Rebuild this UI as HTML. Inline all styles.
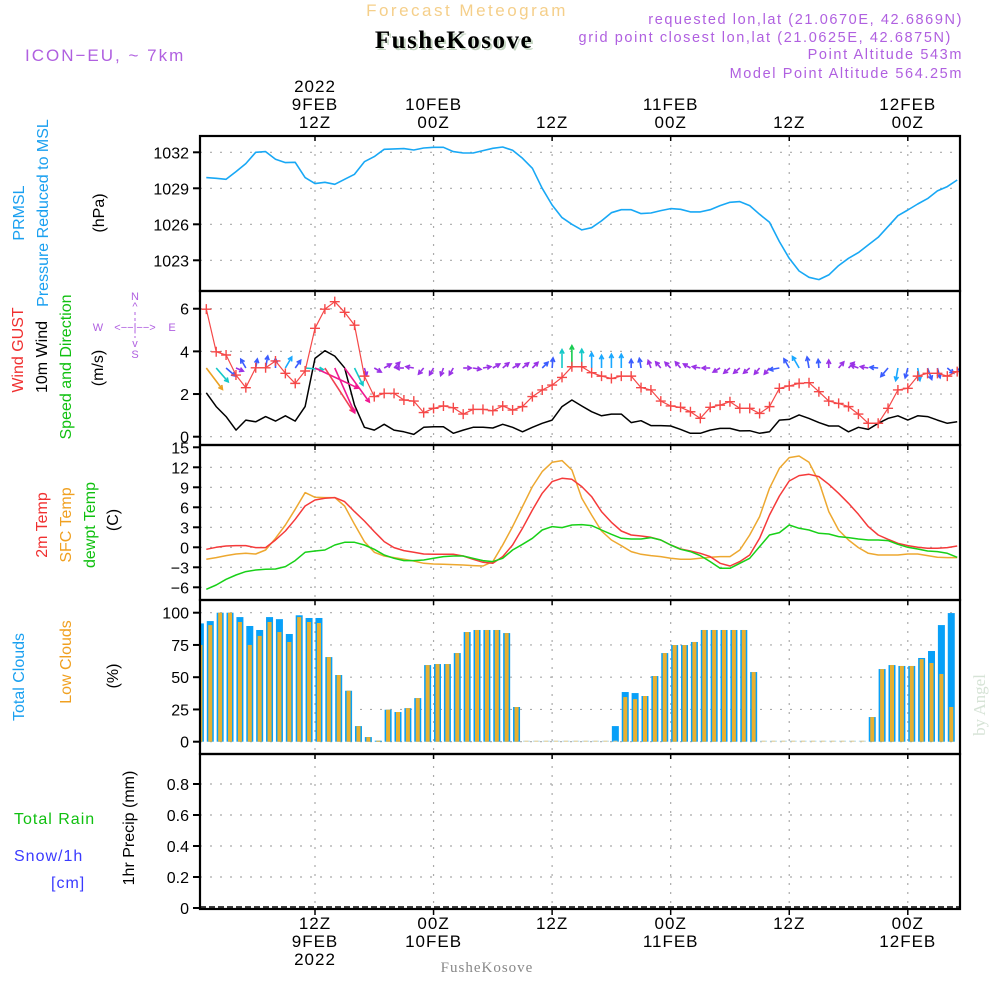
<!DOCTYPE html>
<html><head><meta charset="utf-8"><style>
html,body{margin:0;padding:0;background:#fff;}
svg{display:block;font-family:"Liberation Sans",sans-serif;}
</style></head><body>
<svg id="chart" width="1000" height="1000" viewBox="0 0 1000 1000" xmlns="http://www.w3.org/2000/svg">
<rect x="0" y="0" width="1000" height="1000" fill="#fff"/>
<text x="467" y="16" text-anchor="middle" font-size="17" letter-spacing="2.5" fill="#f5cf8a">Forecast Meteogram</text>
<text x="456" y="50" text-anchor="middle" font-family="Liberation Serif,serif" font-weight="bold" font-size="25" letter-spacing="1.5" fill="#c5d6c3">FusheKosove</text>
<text x="454" y="48" text-anchor="middle" font-family="Liberation Serif,serif" font-weight="bold" font-size="25" letter-spacing="1.5" fill="#000">FusheKosove</text>
<text x="25" y="61" font-size="17" letter-spacing="2" fill="#b060e0">ICON−EU, ~ 7km</text>
<g fill="#b060e0" font-size="14.5" letter-spacing="1.6" text-anchor="end">
<text x="963" y="24">requested lon,lat (21.0670E, 42.6869N)</text>
<text x="952" y="42">grid point closest lon,lat (21.0625E, 42.6875N)</text>
<text x="963" y="59">Point Altitude 543m</text>
<text x="963" y="78">Model Point Altitude 564.25m</text>
</g>
<g id="grid"></g>
<g id="marks"></g>
<g id="axes"></g>
<g font-size="16">
<text transform="translate(24,213) rotate(-90)" text-anchor="middle" fill="#1aa0f0">PRMSL</text>
<text transform="translate(48,213) rotate(-90)" text-anchor="middle" fill="#1aa0f0">Pressure Reduced to MSL</text>
<text transform="translate(104,213) rotate(-90)" text-anchor="middle" fill="#000">(hPa)</text>
<text transform="translate(23,350) rotate(-90)" text-anchor="middle" fill="#f03030">Wind GUST</text>
<text transform="translate(47,357) rotate(-90)" text-anchor="middle" fill="#000">10m Wind</text>
<text transform="translate(71,367) rotate(-90)" text-anchor="middle" fill="#10c010">Speed and Direction</text>
<text transform="translate(103,368) rotate(-90)" text-anchor="middle" fill="#000">(m/s)</text>
<text transform="translate(47,525) rotate(-90)" text-anchor="middle" fill="#f03030">2m Temp</text>
<text transform="translate(71,525) rotate(-90)" text-anchor="middle" fill="#f0a020">SFC Temp</text>
<text transform="translate(95,525) rotate(-90)" text-anchor="middle" fill="#10c010">dewpt Temp</text>
<text transform="translate(118,520) rotate(-90)" text-anchor="middle" fill="#000">(C)</text>
<text transform="translate(24,677) rotate(-90)" text-anchor="middle" fill="#1aa0f0">Total Clouds</text>
<text transform="translate(71,662) rotate(-90)" text-anchor="middle" fill="#f0a020">Low Clouds</text>
<text transform="translate(118,676) rotate(-90)" text-anchor="middle" fill="#000">(%)</text>
<text transform="translate(134,828) rotate(-90)" text-anchor="middle" fill="#000">1hr Precip (mm)</text>
<text x="14" y="824" fill="#10c010" letter-spacing="1">Total  Rain</text>
<text x="14" y="861" fill="#3a3aff" letter-spacing="1">Snow/1h</text>
<text x="51" y="888" fill="#3a3aff" letter-spacing="1">[cm]</text>
</g>
<g fill="#b060e0" font-size="11" text-anchor="middle">
<text x="135" y="300">N</text><text x="135" y="310">^</text>
<text x="98" y="331">W</text><text x="135" y="331">&lt;−−|−−&gt;</text><text x="172" y="331">E</text>
<text x="135" y="347">v</text><text x="135" y="358">S</text>
<line x1="135" y1="312" x2="135" y2="338" stroke="#b060e0" stroke-width="1" stroke-dasharray="3,3"/>
</g>
<text transform="translate(985,705) rotate(-90)" text-anchor="middle" font-family="Liberation Serif,serif" font-size="17" fill="#d6e3d6">by Angel</text>
<text x="487" y="972" text-anchor="middle" font-family="Liberation Serif,serif" font-size="15" letter-spacing="1" fill="#888">FusheKosove</text>
</svg>
<script>
var pressure=[1029.89,1029.83,1029.75,1030.39,1031.06,1032.0,1032.06,1031.42,1031.14,1031.17,1029.89,1029.39,1029.5,1029.33,1029.75,1030.17,1031.22,1031.64,1032.25,1032.28,1032.31,1032.19,1032.36,1032.42,1032.42,1032.06,1031.94,1031.94,1032.14,1032.33,1032.44,1032.17,1031.5,1030.67,1029.0,1027.61,1026.56,1026.0,1025.53,1025.72,1026.28,1026.97,1027.22,1027.22,1026.89,1026.94,1027.14,1027.31,1027.25,1027.03,1027.03,1027.22,1027.56,1027.83,1027.89,1027.56,1026.83,1026.17,1024.56,1023.17,1022.11,1021.58,1021.39,1021.78,1022.56,1023.17,1023.64,1024.28,1024.92,1025.81,1026.72,1027.19,1027.69,1028.14,1028.78,1029.14,1029.69];
var gust=[5.98,3.98,3.83,2.89,2.30,3.23,3.23,3.55,2.97,2.50,3.08,5.08,5.98,6.33,5.83,5.23,2.84,1.88,2.03,2.03,1.72,1.67,1.13,1.33,1.44,1.36,1.06,1.28,1.28,1.22,1.44,1.25,1.41,1.88,2.19,2.42,2.78,3.28,3.28,3.0,2.84,2.73,2.84,2.84,2.30,2.19,1.67,1.44,1.38,1.17,0.86,1.38,1.48,1.64,1.33,1.33,1.09,1.41,2.27,2.38,2.50,2.53,2.11,1.67,1.56,1.41,1.06,0.63,0.63,1.33,2.19,2.27,2.84,2.97,2.97,2.84,3.05];
var wind=[2.06,1.41,0.94,0.31,0.78,0.70,0.94,0.73,0.98,0.73,1.41,3.67,4.03,3.78,3.23,1.48,0.44,0.31,0.58,0.31,0.23,0.11,0.44,0.47,0.47,0.16,0.31,0.44,0.44,0.41,0.58,0.44,0.23,0.44,0.63,0.78,1.41,1.72,1.44,1.17,0.98,1.06,1.06,0.66,0.75,0.52,0.52,0.5,0.34,0.16,0.16,0.31,0.39,0.39,0.27,0.28,0.16,0.23,0.78,0.81,1.02,0.86,0.66,0.5,0.5,0.23,0.44,0.34,0.63,0.86,0.98,0.78,0.98,0.94,0.78,0.63,0.70];
var windDir=[143,139,131,113,330,10,10,0,30,35,95,115,147,156,144,154,164,120,60,45,270,280,220,210,200,210,90,100,80,60,50,60,50,45,45,5,0,0,0,0,0,0,0,0,350,340,320,315,320,300,280,270,240,230,230,230,220,220,260,330,330,350,355,0,40,45,290,280,275,220,190,195,170,160,165,130,140];
var temp2m=[-0.3,0,0.2,0.25,0.25,-0.05,-0.05,1.1,2.45,4.2,6.2,7.1,7.35,7.45,6.85,5.35,3.95,2.35,0.85,-0.05,-0.5,-0.75,-1.0,-1.05,-1.05,-1.05,-1.3,-1.8,-2.25,-2.4,-1.4,0.35,2.85,5.6,8.1,9.85,10.35,10.2,9.1,7.6,5.35,3.75,2.45,1.85,1.7,1.5,1.1,0.35,-0.25,-0.55,-0.9,-1.4,-2.4,-2.8,-2.15,-1.15,1.35,4.85,7.7,9.95,10.75,10.95,10.6,9.45,8.1,6.6,4.95,3.1,1.85,1.2,0.6,0.25,0,-0.15,-0.15,-0.05,0.2];
var tempSfc=[-1.8,-1.55,-1.25,-1.0,-0.9,-1.0,-0.4,1.35,3.35,5.7,8.2,7.5,7.45,7.45,6.2,3.45,0.85,-0.75,-1.3,-1.55,-1.8,-2.05,-2.4,-2.5,-2.55,-2.6,-2.65,-2.75,-2.8,-2.15,0.35,3.1,6.1,9.1,11.35,12.75,13.0,11.6,7.35,4.85,2.45,1.1,0.25,-0.65,-1.05,-1.25,-1.4,-1.65,-1.8,-1.8,-1.65,-1.5,-1.4,-1.4,-0.4,1.85,4.6,8.85,11.85,13.45,13.7,12.75,9.85,5.35,2.6,1.1,-0.05,-0.9,-1.15,-1.15,-1.15,-1.0,-1.0,-1.25,-1.5,-1.55,-1.55];
var dewpt=[-6.3,-5.65,-4.8,-4.15,-3.65,-3.4,-3.3,-3.25,-2.9,-2.0,-0.75,-0.55,-0.4,0.35,0.75,0.75,0.35,-0.3,-1.15,-1.65,-2.0,-2.0,-1.9,-1.65,-1.4,-1.3,-1.3,-1.65,-2.0,-2.15,-1.65,-0.4,0.45,1.35,2.6,3.1,2.95,3.35,3.4,3.25,2.6,1.95,1.35,1.25,1.25,1.45,1.1,0.35,-0.3,-0.65,-1.25,-2.15,-3.15,-3.15,-2.4,-1.65,0.1,1.85,2.2,3.35,2.85,2.6,2.1,2.0,1.6,1.45,1.25,1.1,1.1,1.0,0.45,0,-0.25,-0.55,-0.65,-0.9,-1.5];
var totalClouds=[91.7,93.5,100,100,96.6,89.7,86.6,96.6,95,83.5,98,95.9,95.9,65.6,51.7,39.5,12.1,3.6,0.5,24.8,23,26,33.8,59.4,60.2,60.2,68.7,85,86.6,86.6,86.6,84.2,26.9,0,0,0,0,0,0,0,0,0,12.1,38.5,37.7,35.4,50.9,68.7,74.9,74.9,77.3,86.6,86.6,86.6,86.6,86.6,54,0,0,0,0,0,0,0,0,0,0,0,19.1,56.3,59.4,58.7,58.7,64.9,70.3,90.4,99.7];
var lowClouds=[75,90.4,100,100,92.8,75,82,92.8,85,77.3,96.6,92.8,92,65.6,51.7,39.5,12.1,3.6,0.5,24.8,23,26,33.8,59.4,60.2,60.2,68.7,85,86.6,86.6,86.6,84.2,26.9,0,0,0,0,0,0,0,0,0,0,34.6,33,35.4,50.9,68.7,74.9,74.9,77.3,86.6,86.6,86.6,86.6,86.6,54,0,0,0,0,0,0,0,0,0,0,0,19.1,56.3,59.4,58.7,58.7,64,61,52.5,26.9];
var precip=[];
var pressTicks=[1023,1026,1029,1032];
var windTicks=[0,2,4,6];
var tempTicks=[-6,-3,0,3,6,9,12,15];
var cloudTicks=[0,25,50,75,100];
var precipTicks=[0,0.2,0.4,0.6,0.8];
var timeTickHours=[12,24,36,48,60,72];
var topLabels=[["2022","9FEB","12Z"],["10FEB","00Z"],["12Z"],["11FEB","00Z"],["12Z"],["12FEB","00Z"]];
var bottomLabels=[["12Z","9FEB","2022"],["00Z","10FEB"],["12Z"],["00Z","11FEB"],["12Z"],["00Z","12FEB"]];

var NS="http://www.w3.org/2000/svg";
var L=200,R=960;
function X(h){return 315+(h-12)*9.88;}
function yP(p){return 152.3+(1032-p)*12;}
function yW(s){return 436.7-s*21.33;}
function yT(t){return 547.3-t*6.667;}
function yC(c){return 741.7-c*1.29;}
function yR(v){return 908-v*155;}
function el(parent,tag,attrs){var e=document.createElementNS(NS,tag);for(var k in attrs)e.setAttribute(k,attrs[k]);parent.appendChild(e);return e;}
var grid=document.getElementById('grid'),marks=document.getElementById('marks'),axes=document.getElementById('axes');
var panels=[[136,291],[291,445],[445,600],[600,754],[754,909]];
var defs=el(marks,'defs',{});var cp=el(defs,'clipPath',{id:'plotclip'});el(cp,'rect',{x:L,y:136,width:R-L,height:773});
var mg=el(marks,'g',{'clip-path':'url(#plotclip)'});
function hTicks(ticks,fy,fmt,name,top,bot){
  ticks.forEach(function(v){var y=fy(v);
    if(y>top+3&&y<bot-3){var g=el(grid,'line',{x1:L,x2:R,y1:y,y2:y,stroke:'#aaa','stroke-width':1.2,'stroke-dasharray':'2,8'});
    
    }
    var tk=el(axes,'line',{x1:L-7,x2:L,y1:y,y2:y,stroke:'#000','stroke-width':2});
    
    
    var t=el(axes,'text',{x:L-11,y:y+6,'text-anchor':'end','font-size':16,fill:'#000'});t.textContent=fmt(v);
    
    
  });
}
hTicks(pressTicks,yP,String,'pressure-axis',136,291);
hTicks(windTicks,yW,String,'wind-axis',291,445);
hTicks(tempTicks,yT,function(v){return v<0?'−'+(-v):String(v);},'temp-axis',445,600);
hTicks(cloudTicks,yC,String,'cloud-axis',600,754);
hTicks(precipTicks,yR,function(v){return v===0?'0':v.toFixed(1);},'precip-axis',754,909);
timeTickHours.forEach(function(h){var x=X(h);
  var v=el(grid,'line',{x1:x,x2:x,y1:136,y2:909,stroke:'#aaa','stroke-width':1.2,'stroke-dasharray':'2,7'});
  
  
  panels.forEach(function(p){el(axes,'line',{x1:x,x2:x,y1:p[0],y2:p[0]+5,stroke:'#000','stroke-width':1.5});});
  el(axes,'line',{x1:x,x2:x,y1:909,y2:915,stroke:'#000','stroke-width':1.5});
});
topLabels.forEach(function(lines,i){var x=X(timeTickHours[i]);var n=lines.length;
  lines.forEach(function(s,j){var t=el(axes,'text',{x:x,y:128-(n-1-j)*18,'text-anchor':'middle','font-size':17,'letter-spacing':1,fill:'#000'});t.textContent=s;
  
  });});
bottomLabels.forEach(function(lines,i){var x=X(timeTickHours[i]);
  lines.forEach(function(s,j){var t=el(axes,'text',{x:x,y:929+j*18,'text-anchor':'middle','font-size':17,'letter-spacing':1,fill:'#000'});t.textContent=s;
  
  });});
panels.forEach(function(p,i){var r=el(axes,'rect',{x:L,y:p[0],width:R-L,height:p[1]-p[0],fill:'none',stroke:'#000','stroke-width':2.2});
  
  });
function line(arr,fy,color,name,w){var pts=arr.map(function(v,i){return X(i+1).toFixed(1)+','+fy(v).toFixed(1);}).join(' ');
  var p=el(mg,'polyline',{points:pts,fill:'none',stroke:color,'stroke-width':w||1.5,'stroke-linejoin':'round'});
  
  return p;}
line(pressure,yP,'#18a8f5','pressure-line',1.6);
totalClouds.forEach(function(c,k){var cx=X(k+0.4);var y=yC(c);var h=Math.max(1,741.7-y);
  var b=el(mg,'rect',{x:cx-3.5,y:741.7-h,width:7,height:h,fill:c>0?'#08a0f8':'#a8d8f0'});
  
  });
lowClouds.forEach(function(c,k){var cx=X(k+0.4);var y=yC(c);var h=Math.max(1,741.7-y);
  var b=el(mg,'rect',{x:cx-2,y:741.7-h,width:4,height:h,fill:c>0?'#e8b030':'#ecd090'});
  
  });
var pb=el(mg,'line',{x1:L,x2:R,y1:yR(0)-1,y2:yR(0)-1,stroke:'#000','stroke-width':1.5,'stroke-dasharray':'6,3'});


precip.forEach(function(v,k){var b=el(mg,'rect',{x:X(k+0.4)-3,y:yR(v),width:6,height:908-yR(v),fill:'#10c010'});
  
  });
line(tempSfc,yT,'#eda830','sfc-temp-line',1.5);
line(temp2m,yT,'#f53a3a','temp-2m-line',1.5);
line(dewpt,yT,'#18d018','dewpt-line',1.5);
line(wind,yW,'#000','wind-speed-line',1.5);
function wcol(s){if(s<0.6)return'#9a32e6';if(s<0.95)return'#3a5cff';if(s<1.3)return'#19a8ff';if(s<1.6)return'#14c8c8';if(s<2.0)return'#18cc50';if(s<2.6)return'#eaa020';if(s<3.9)return'#f01890';return'#f04050';}
wind.forEach(function(s,k){var x0=X(k+1),y0=368;var len=Math.max(8,13*s);var a=windDir[k]*Math.PI/180;
  var x1=x0+Math.sin(a)*len,y1=y0-Math.cos(a)*len;var c=wcol(s);
  var g=el(mg,'g',{stroke:c,'stroke-width':1.6,fill:'none'});
  
  
  el(g,'line',{x1:x0,y1:y0,x2:x1,y2:y1});
  var hl=4.5,b1=a+Math.PI-0.5,b2=a+Math.PI+0.5;
  el(g,'polyline',{points:(x1+Math.sin(b1)*hl)+','+(y1-Math.cos(b1)*hl)+' '+x1+','+y1+' '+(x1+Math.sin(b2)*hl)+','+(y1-Math.cos(b2)*hl)});
});
line(gust,yW,'#f54848','gust-line',1.2);
gust.forEach(function(v,k){var x=X(k+1),y=yW(v);
  var g=el(mg,'path',{d:'M'+(x-5)+' '+y+'H'+(x+5)+'M'+x+' '+(y-5)+'V'+(y+5),stroke:'#f54848','stroke-width':1.4});
  
  });
</script>
</body></html>
